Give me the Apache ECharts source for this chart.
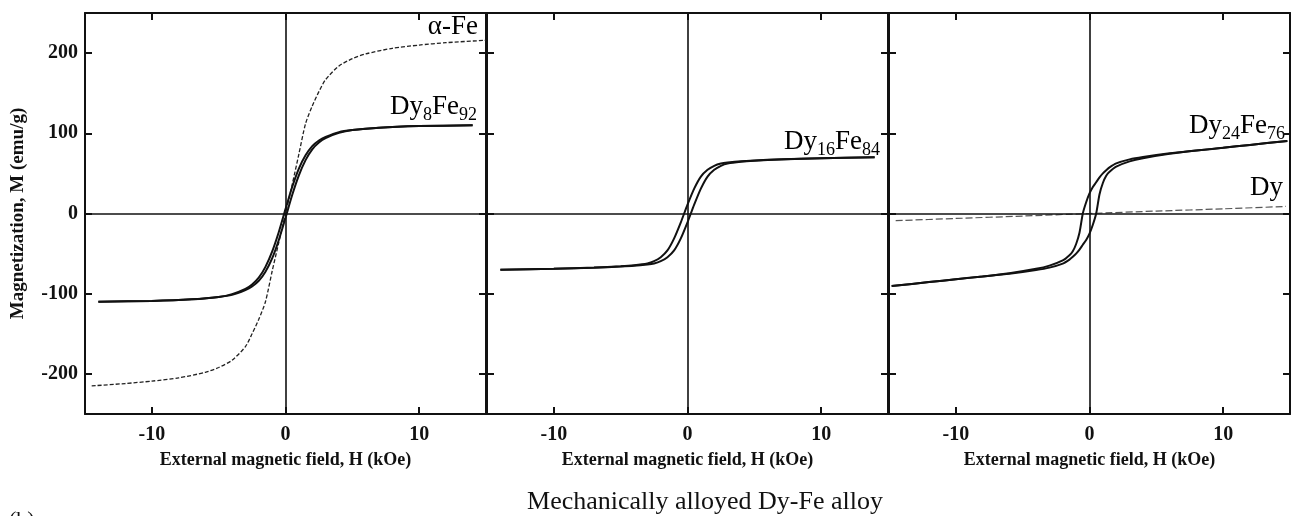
<!DOCTYPE html>
<html>
<head>
<meta charset="utf-8">
<script src="https://cdn.jsdelivr.net/npm/echarts@6/dist/echarts.min.js"></script>
<style>
  html, body { margin: 0; padding: 0; background: #fff; }
  #main { width: 1295px; height: 516px; }
</style>
</head>
<body>
<div id="main"></div>
<script>
// 磁场 (kOe) 与磁化强度 (emu/g)
const hDy8 = [-14, -10, -7, -5, -4, -3, -2.5, -2, -1.5, -1, -0.5, 0, 0.5, 1, 1.5, 2, 2.5, 3, 4, 5, 7, 10, 14];
const dy8Up = [-110, -109, -107, -104, -101.5, -95.5, -91, -84, -72.5, -56, -33, -5.5, 23, 47.5, 66.5, 80, 88.5, 94, 100.5, 104, 107, 109, 110];
const dy8Down = [-110, -109, -107, -104, -100.5, -94, -88.5, -80, -66.5, -47.5, -23, 5.5, 33, 56, 72.5, 84, 91, 95.5, 101.5, 104, 107, 109, 110];

const hFe = [-14.5, -12, -10, -8, -6, -5, -4, -3, -2.5, -2, -1.5, -1, -0.5, 0, 0.5, 1, 1.5, 2, 2.5, 3, 4, 5, 6, 8, 10, 12, 15];
const mFe = [-215, -212, -209, -205, -198, -192, -183, -166, -150, -132, -110, -72, -36, 0, 36, 74, 112, 134, 152, 167, 184, 193, 199, 206, 210, 213, 216];

const hDy16 = [-14, -10, -7, -5, -4, -3, -2.5, -2, -1.5, -1, -0.5, 0, 0.5, 1, 1.5, 2, 2.5, 3, 4, 5, 7, 10, 14];
const dy16Up = [-70, -69, -67.5, -66.2, -65.3, -63.6, -62.3, -59.5, -54.5, -46, -31, -11, 11, 31, 46, 54.5, 59.5, 62.3, 64.5, 65.7, 67.3, 68.8, 70];
const dy16Down = [-70, -68.8, -67.3, -65.7, -64.5, -62.3, -59.5, -54.5, -46, -31, -11, 11, 31, 46, 54.5, 59.5, 62.3, 63.6, 65.3, 66.2, 67.5, 69, 70];

const hDy24 = [-14.8, -12, -10, -8, -6, -4, -3, -2, -1.5, -1.25, -1, -0.75, -0.5, -0.25, 0, 0.25, 0.5, 0.75, 1, 1.25, 1.5, 2, 3, 4, 6, 8, 10, 12, 14.8];
const dy24Down = [-90.5, -85.5, -82, -78.5, -74.5, -69, -65, -58.5, -52, -47, -38, -24, 0, 14, 25, 33, 39, 45, 50, 54, 57.5, 62.5, 67.5, 70.5, 75, 78.5, 82, 85.5, 90.5];
const dy24Up = [-90.5, -85.5, -82, -78.5, -75, -70.5, -67.5, -62.5, -57.5, -54, -50, -45, -39, -33, -25, -14, 0, 24, 38, 47, 52, 58.5, 65, 69, 74.5, 78.5, 82, 85.5, 90.5];

const hDy = [-14.5, -10, -5, 0, 5, 10, 14.7];
const mDy = [-9, -6.2, -3.2, 0, 3, 5.8, 8.8];

const xTicks = [-10, 0, 10];
const yTicks = [-200, -100, 0, 100, 200];

const pairs = (xs, ys) => xs.map((x, i) => [x, ys[i]]);

const SERIF = '"Liberation Serif", "Times New Roman", serif';
const INK = '#111';
const panelLefts = [85, 487, 889];
const panelW = 401;

const chart = echarts.init(document.getElementById('main'));

const grids = [];
const xAxes = [];
const yAxes = [];
panelLefts.forEach((left, i) => {
    grids.push({ left: left, top: 13, width: panelW, height: 401 });
    const frame = { show: true, onZero: false, lineStyle: { color: INK, width: 2 } };
    const tick = { show: true, inside: true, length: 7, lineStyle: { color: INK, width: 2 } };
    // 下轴
    xAxes.push({
        type: 'value', gridIndex: i, position: 'bottom', min: -15, max: 15, interval: 5,
        axisLine: frame,
        axisTick: Object.assign({ customValues: xTicks }, tick),
        axisLabel: {
            customValues: xTicks, margin: 11,
            fontFamily: SERIF, fontWeight: 'bold', fontSize: 20, color: INK,
        },
        splitLine: { show: false },
        name: 'External magnetic field, H (kOe)', nameLocation: 'middle', nameGap: 37,
        nameTextStyle: { fontFamily: SERIF, fontWeight: 'bold', fontSize: 18, color: INK },
    });
    // 上轴
    xAxes.push({
        type: 'value', gridIndex: i, position: 'top', min: -15, max: 15, interval: 5,
        axisLine: frame,
        axisTick: Object.assign({ customValues: xTicks }, tick),
        axisLabel: { show: false },
        splitLine: { show: false },
    });
    yAxes.push({
        type: 'value', gridIndex: i, position: 'left', min: -250, max: 250, interval: 50,
        axisLine: frame,
        axisTick: Object.assign({ customValues: yTicks }, tick),
        axisLabel: {
            show: i === 0, customValues: yTicks, margin: 7,
            fontFamily: SERIF, fontWeight: 'bold', fontSize: 20, color: INK,
        },
        splitLine: { show: false },
        name: i === 0 ? 'Magnetization, M (emu/g)' : '', nameLocation: 'middle', nameGap: 57,
        nameTextStyle: { fontFamily: SERIF, fontWeight: 'bold', fontSize: 19, color: INK },
    });
    yAxes.push({
        type: 'value', gridIndex: i, position: 'right', min: -250, max: 250, interval: 50,
        axisLine: frame,
        axisTick: Object.assign({ customValues: yTicks }, tick),
        axisLabel: { show: false },
        splitLine: { show: false },
    });
});

const solid = (name, xs, ys, i) => ({
    name: name, type: 'line', xAxisIndex: 2 * i, yAxisIndex: 2 * i,
    data: pairs(xs, ys), showSymbol: false, smooth: 0.25, silent: true,
    lineStyle: { color: INK, width: 2 },
});
const dashed = (name, xs, ys, i, color, width, dash) => ({
    name: name, type: 'line', xAxisIndex: 2 * i, yAxisIndex: 2 * i,
    data: pairs(xs, ys), showSymbol: false, smooth: 0.25, silent: true,
    lineStyle: { color: color, width: width, type: dash },
});
const zeroLines = (i) => ({
    type: 'line', xAxisIndex: 2 * i, yAxisIndex: 2 * i, data: [], silent: true,
    markLine: {
        silent: true, symbol: 'none', label: { show: false },
        lineStyle: { color: INK, width: 1.6, type: 'solid' },
        data: [{ xAxis: 0 }, { yAxis: 0 }],
        animation: false,
    },
});

const series = [
    zeroLines(0), zeroLines(1), zeroLines(2),
    dashed('α-Fe', hFe, mFe, 0, '#222', 1.3, [4, 2]),
    solid('Dy8Fe92 up', hDy8, dy8Up, 0),
    solid('Dy8Fe92 down', hDy8, dy8Down, 0),
    solid('Dy16Fe84 up', hDy16, dy16Up, 1),
    solid('Dy16Fe84 down', hDy16, dy16Down, 1),
    dashed('Dy', hDy, mDy, 2, '#555', 1.2, [7, 3]),
    solid('Dy24Fe76 up', hDy24, dy24Up, 2),
    solid('Dy24Fe76 down', hDy24, dy24Down, 2),
];

const rich = {
    m: { fontFamily: SERIF, fontSize: 27, color: INK, lineHeight: 34 },
    s: { fontFamily: SERIF, fontSize: 18, color: INK, lineHeight: 18, verticalAlign: 'bottom' },
};
const label = (text, x, y) => ({
    type: 'text', x: x, y: y, silent: true,
    style: { text: text, rich: rich, align: 'right', verticalAlign: 'middle' },
});

chart.setOption({
    animation: false,
    backgroundColor: '#fff',
    grid: grids,
    xAxis: xAxes,
    yAxis: yAxes,
    series: series,
    graphic: [
        label('{m|α-Fe}', 478, 27),
        label('{m|Dy}{s|8}{m|Fe}{s|92}', 477, 107),
        label('{m|Dy}{s|16}{m|Fe}{s|84}', 880, 142),
        label('{m|Dy}{s|24}{m|Fe}{s|76}', 1285, 126),
        label('{m|Dy}', 1283, 188),
        {
            type: 'text', x: 705, y: 502, silent: true,
            style: {
                text: 'Mechanically alloyed Dy-Fe alloy', align: 'center', verticalAlign: 'middle',
                fontFamily: SERIF, fontSize: 26, fill: INK,
            },
        },
        {
            type: 'text', x: 9, y: 509, silent: true,
            style: { text: '(b)', fontFamily: SERIF, fontSize: 22, fill: INK },
        },
    ],
});
</script>
</body>
</html>
